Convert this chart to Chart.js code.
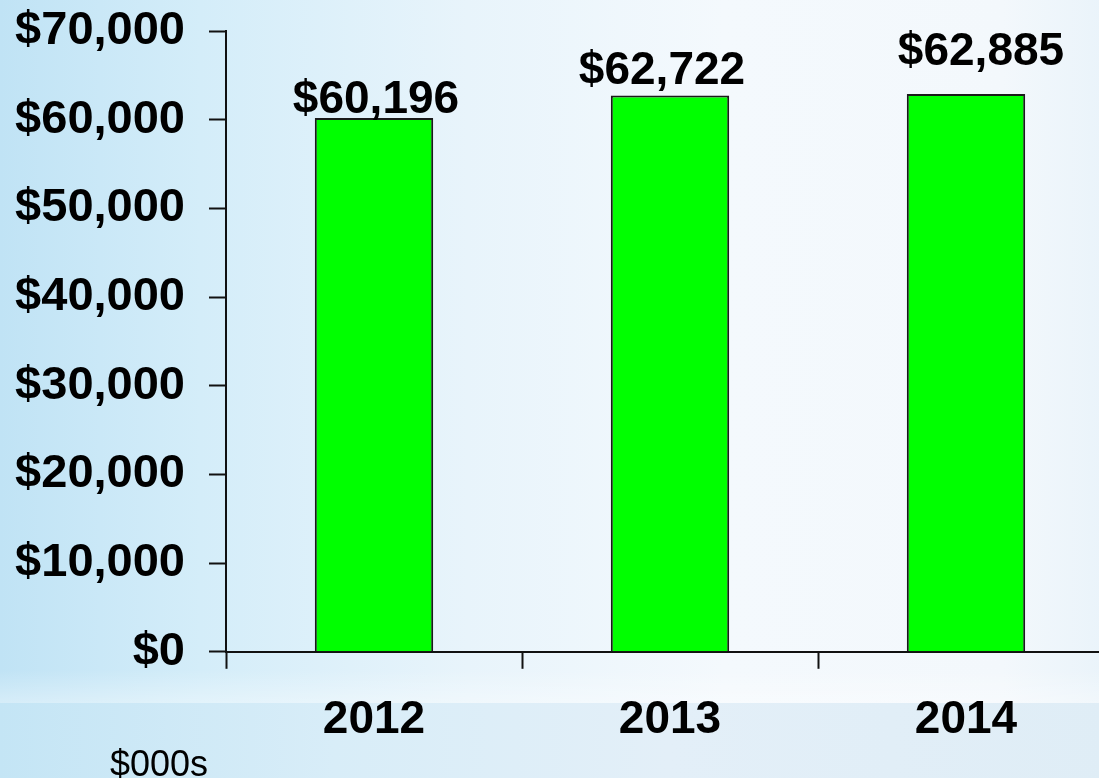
<!DOCTYPE html>
<html>
<head>
<meta charset="utf-8">
<script src="https://cdn.jsdelivr.net/npm/chart.js@4"></script>
<style>
  html, body { margin: 0; padding: 0; overflow: hidden; background: #e6f3fa; }
  #wrap { width: 1114px; height: 778px; }
</style>
</head>
<body>
<div id="wrap"><canvas id="revenueChart"></canvas></div>
<script>
const years = ['2012', '2013', '2014'];
const revenue = [60196, 62722, 62885];
const yTicks = [0, 10000, 20000, 30000, 40000, 50000, 60000, 70000];
const unitNote = '$000s';

const money = v => '$' + v.toLocaleString('en-US');
const FONT = '"Liberation Sans", Arial, sans-serif';

// label nudges (px) so the value texts sit where they were typeset
const labelShift = [[2, -5], [-8, -12], [15, -29]];

const background = {
  id: 'slide_background',
  beforeDraw: (chart) => {
    const {ctx, width, height} = chart;
    ctx.save();
    const g = ctx.createLinearGradient(0, 0, width, 0);
    g.addColorStop(0, '#c0e3f5');
    g.addColorStop(0.18, '#d4edf9');
    g.addColorStop(0.42, '#e8f4fb');
    g.addColorStop(0.65, '#f4f9fd');
    g.addColorStop(0.9, '#f3f8fc');
    g.addColorStop(1, '#e9f3fa');
    ctx.fillStyle = g;
    ctx.fillRect(0, 0, width, height);
    // pale streak above the lower band
    const s = ctx.createLinearGradient(0, 670, 0, 703);
    s.addColorStop(0, 'rgba(255,255,255,0)');
    s.addColorStop(1, 'rgba(255,255,255,0.35)');
    ctx.fillStyle = s;
    ctx.fillRect(0, 670, width, 33);
    // lower band
    const b = ctx.createLinearGradient(0, 0, width, 0);
    b.addColorStop(0, '#c4e5f5');
    b.addColorStop(0.3, '#d8edf8');
    b.addColorStop(0.6, '#e3eff8');
    b.addColorStop(1, '#dfedf6');
    ctx.fillStyle = b;
    ctx.fillRect(0, 703, width, height - 703);
    ctx.restore();
  }
};

const valueLabels = {
  id: 'value_labels',
  afterDatasetsDraw: (chart) => {
    const {ctx} = chart;
    const meta = chart.getDatasetMeta(0);
    ctx.save();
    ctx.font = 'bold 46px ' + FONT;
    ctx.fillStyle = '#000';
    ctx.textAlign = 'center';
    ctx.textBaseline = 'alphabetic';
    meta.data.forEach((bar, i) => {
      const [dx, dy] = labelShift[i];
      ctx.fillText(money(revenue[i]), bar.x + dx, bar.y + dy);
    });
    // units note under the axis
    ctx.font = '36px ' + FONT;
    ctx.textAlign = 'left';
    ctx.fillText(unitNote, 110, 776);
    ctx.restore();
  }
};

const config = {
  type: 'bar',
  data: {
    labels: years,
    datasets: [{
      data: revenue,
      backgroundColor: '#00ff00',
      borderColor: '#1a1a1a',
      borderWidth: 2,
      barPercentage: 0.4,
      categoryPercentage: 1
    }]
  },
  options: {
    responsive: true,
    maintainAspectRatio: false,
    animation: false,
    layout: { padding: { top: 31, left: 0, right: 0, bottom: 6 } },
    plugins: {
      legend: { display: false },
      tooltip: { enabled: false }
    },
    scales: {
      x: {
        grid: {
          offset: true,
          drawOnChartArea: false,
          drawTicks: true,
          tickLength: 17,
          tickColor: '#111',
          tickWidth: 2
        },
        border: { color: '#111', width: 2 },
        ticks: {
          color: '#000',
          padding: 24,
          font: { family: FONT, size: 46, weight: 'bold' }
        }
      },
      y: {
        min: 0,
        max: 70000,
        afterBuildTicks: (axis) => { axis.ticks = yTicks.map(v => ({value: v})); },
        afterFit: (axis) => {
          axis.width = 226;
          axis.paddingTop = 0;
          axis.paddingBottom = 0;
        },
        grid: {
          drawOnChartArea: false,
          tickLength: 17,
          tickColor: '#111',
          tickWidth: 2
        },
        border: { color: '#111', width: 2 },
        ticks: {
          color: '#000',
          padding: 24,
          callback: v => money(v),
          font: { family: FONT, size: 47, weight: 'bold' }
        }
      }
    }
  },
  plugins: [background, valueLabels]
};

const revenueChart = new Chart(document.getElementById('revenueChart'), config);
</script>
</body>
</html>
